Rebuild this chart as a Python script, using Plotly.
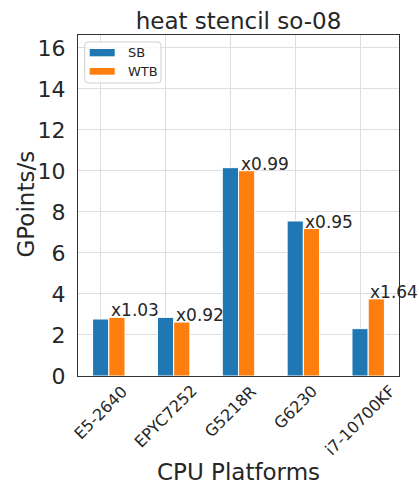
import plotly.graph_objects as go

platforms = ["E5-2640", "EPYC7252", "G5218R", "G6230", "i7-10700KF"]
sb_values = [2.78, 2.86, 10.16, 7.56, 2.31]
wtb_values = [2.86, 2.63, 10.01, 7.19, 3.76]
speedup_labels = ["x1.03", "x0.92", "x0.99", "x0.95", "x1.64"]
y_ticks = [0, 2, 4, 6, 8, 10, 12, 14, 16]

BLUE = "#1f77b4"
ORANGE = "#ff7f0e"
TXT = "#262626"
FONT = "DejaVu Sans"
BW = 0.25

idx = list(range(len(platforms)))
fig = go.Figure()
fig.add_trace(go.Bar(x=idx, y=sb_values, width=BW, name="SB",
                     marker=dict(color=BLUE, line=dict(color="white", width=1)),
                     showlegend=False))
fig.add_trace(go.Bar(x=[i + BW for i in idx], y=wtb_values, width=BW, name="WTB",
                     marker=dict(color=ORANGE, line=dict(color="white", width=1)),
                     showlegend=False))

annotations = []
for i, (v, lab) in enumerate(zip(wtb_values, speedup_labels)):
    annotations.append(dict(x=i + BW / 2, y=v, xref="x", yref="y", text=lab,
                            showarrow=False, xanchor="left", yanchor="bottom",
                            yshift=-5, font=dict(family=FONT, size=17, color=TXT)))
for i, name in enumerate(platforms):
    annotations.append(dict(x=i, y=0, xref="x", yref="paper", text=name,
                            showarrow=False, textangle=-45, xanchor="center",
                            yanchor="top", yshift=-3,
                            font=dict(family=FONT, size=16, color=TXT)))
annotations.append(dict(x=0.5, y=0, xref="paper", yref="paper", text="CPU Platforms",
                        showarrow=False, xanchor="center", yanchor="middle",
                        yshift=-96, font=dict(family=FONT, size=23, color=TXT)))
annotations.append(dict(x=0, y=0.5, xref="paper", yref="paper", text="GPoints/s",
                        showarrow=False, textangle=-90, xanchor="center", yanchor="middle",
                        xshift=-53, yshift=1, font=dict(family=FONT, size=23, color=TXT)))
# legend text
annotations.append(dict(x=0.1505, y=0.9487, xref="paper", yref="paper", text="SB",
                        showarrow=False, xanchor="left", yanchor="middle",
                        font=dict(family=FONT, size=13, color=TXT)))
annotations.append(dict(x=0.1505, y=0.893, xref="paper", yref="paper", text="WTB",
                        showarrow=False, xanchor="left", yanchor="middle",
                        font=dict(family=FONT, size=13, color=TXT)))

# rounded legend frame (paper coords)
x0, x1, y0, y1 = 0.0209, 0.2586, 0.8592, 0.9795
rx, ry = 0.011, 0.010
legend_path = (f"M{x0+rx},{y0} L{x1-rx},{y0} Q{x1},{y0} {x1},{y0+ry} "
               f"L{x1},{y1-ry} Q{x1},{y1} {x1-rx},{y1} L{x0+rx},{y1} "
               f"Q{x0},{y1} {x0},{y1-ry} L{x0},{y0+ry} Q{x0},{y0} {x0+rx},{y0} Z")

shapes = [
    dict(type="path", xref="paper", yref="paper", path=legend_path,
         line=dict(color="#d0d0d0", width=1), fillcolor="rgba(255,255,255,0.85)", layer="above"),
    dict(type="rect", xref="paper", yref="paper", x0=0.0364, x1=0.1143, y0=0.9375, y1=0.9589,
         line=dict(width=0), fillcolor=BLUE, layer="above"),
    dict(type="rect", xref="paper", yref="paper", x0=0.0364, x1=0.1143, y0=0.8836, y1=0.9032,
         line=dict(width=0), fillcolor=ORANGE, layer="above"),
]

fig.update_layout(
    width=419, height=484,
    margin=dict(l=78, r=20, t=35, b=108),
    paper_bgcolor="white", plot_bgcolor="white",
    barmode="overlay",
    font=dict(family=FONT, color=TXT),
    title=dict(text="heat stencil so-08", x=0.5, xref="paper", xanchor="center",
               y=1 - 21 / 484, yref="container", yanchor="middle",
               font=dict(family=FONT, size=23, color=TXT)),
    annotations=annotations,
    shapes=shapes,
)
fig.update_xaxes(range=[-0.35, 4.6], tickvals=idx, showticklabels=False,
                 showgrid=True, gridcolor="#dedede", gridwidth=1,
                 showline=True, mirror=True, linecolor="#333333", linewidth=1.25,
                 zeroline=False, ticks="")
fig.update_yaxes(range=[0, 16.63], tickvals=y_ticks,
                 tickfont=dict(family=FONT, size=22, color=TXT),
                 ticks="outside", ticklen=7, tickcolor="rgba(0,0,0,0)",
                 showgrid=True, gridcolor="#dedede", gridwidth=1,
                 showline=True, mirror=True, linecolor="#333333", linewidth=1.25,
                 zeroline=False)

fig.write_html("out.html", config={"displayModeBar": False},
               post_script="document.body.style.margin='0';")
